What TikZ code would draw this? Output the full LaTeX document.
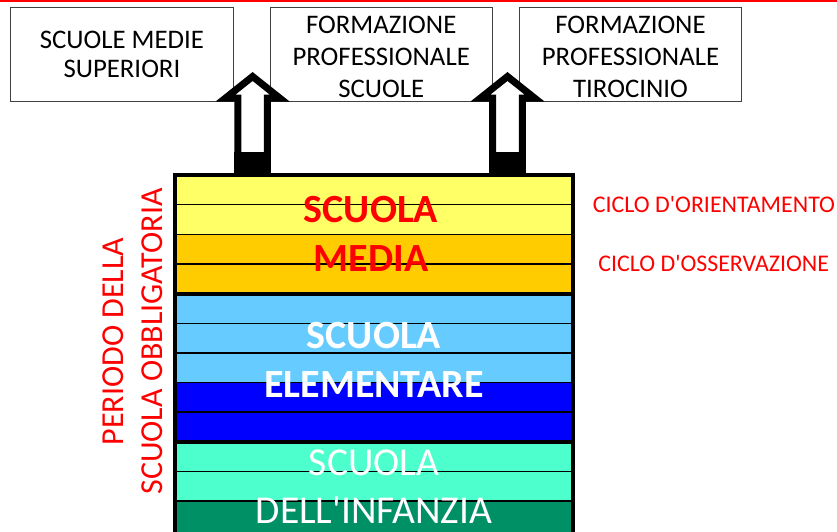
\documentclass[tikz,border=0pt]{standalone}
\usepackage{fontspec}
\setmainfont{Carlito}
\usepackage{tikz}
\usetikzlibrary{positioning}

\definecolor{medyellow}{HTML}{FFFF66}
\definecolor{medorange}{HTML}{FFCC00}
\definecolor{elemlight}{HTML}{66CCFF}
\definecolor{elemblue}{HTML}{0000FF}
\definecolor{infteal}{HTML}{4DFFCC}
\definecolor{infgreen}{HTML}{009066}

\begin{document}
\begin{tikzpicture}[x=1pt,y=-1pt,line join=miter,node distance=36pt]
  \tikzstyle{exit}=[draw=black!75,line width=0.8pt,fill=white,minimum width=222.5pt,
                    minimum height=94pt,inner sep=0pt,align=center,
                    font=\fontsize{26.8}{32}\selectfont]
  \tikzstyle{band}=[draw=black,line width=1.5pt]
  \tikzstyle{cycle label}=[text=red,font=\fontsize{23.9}{28}\selectfont]

  \useasboundingbox (0,0) rectangle (837,531);
  \draw[red,line width=1.5pt] (0,1.2) -- (837,1.2);

  % uscite
  \node[exit,font=\fontsize{26.8}{28.5}\selectfont] (superiori) at (121.9,54.5) {SCUOLE MEDIE\\SUPERIORI};
  \node[exit] (fpscuole)    [right=of superiori]      {\rule{0pt}{23pt}FORMAZIONE\\PROFESSIONALE\\SCUOLE};
  \node[exit] (fptirocinio) [right=26pt of fpscuole]  {\rule{0pt}{23pt}FORMAZIONE\\PROFESSIONALE\\TIROCINIO};

  % frecce
  \foreach \ax in {252.6,507.5}{
    \draw[fill=white,line width=7pt] ({\ax-14.8},175) -- ({\ax-14.8},98) -- ({\ax-27},98)
      -- (\ax,76.5) -- ({\ax+27},98) -- ({\ax+14.8},98) -- ({\ax+14.8},175) -- cycle;
    \fill ({\ax-18.4},152) rectangle ({\ax+18.4},175);
  }

  % fasce
  \foreach \col [count=\i from 0] in {medyellow,medyellow,medorange,medorange,
        elemlight,elemlight,elemlight,elemblue,elemblue,infteal,infteal,infgreen}
    \fill[\col] (175,{175+29.65*\i}) rectangle (573,{206+29.65*\i});
  \fill[infgreen] (175,500) rectangle (573,560);
  \foreach \i in {1,...,11}
    \draw[band] (175,{175+29.65*\i}) -- (573,{175+29.65*\i});
  \foreach \i in {4,9}
    \draw[line width=4pt] (175,{175+29.65*\i}) -- (573,{175+29.65*\i});
  \draw[line width=4.5pt] (175,560) -- (175,175) -- (573,175) -- (573,560);

  \node[text=red,align=center,font=\bfseries\fontsize{40}{49}\selectfont]
       (media) at (371,233.5) {SCUOLA\\MEDIA};
  \node[text=white,align=center,font=\bfseries\fontsize{40}{49.5}\selectfont]
       (elementare) at (374,359.7) {SCUOLA\\ELEMENTARE};
  \node[text=white,align=center,inner sep=0pt,font=\fontsize{39.5}{48.5}\selectfont]
       (infanzia) at (374,486.5) {SCUOLA\\DELL\textquotesingle INFANZIA};

  \node[cycle label] (orientamento) at (714,204.5) {CICLO D\textquotesingle ORIENTAMENTO};
  \node[cycle label] (osservazione) at (713.7,264) {CICLO D\textquotesingle OSSERVAZIONE};

  \node[rotate=90,text=red,align=center,font=\fontsize{32}{39.5}\selectfont]
       (obbligo) at (132.5,341.5) {PERIODO DELLA\\SCUOLA OBBLIGATORIA};
\end{tikzpicture}
\end{document}
